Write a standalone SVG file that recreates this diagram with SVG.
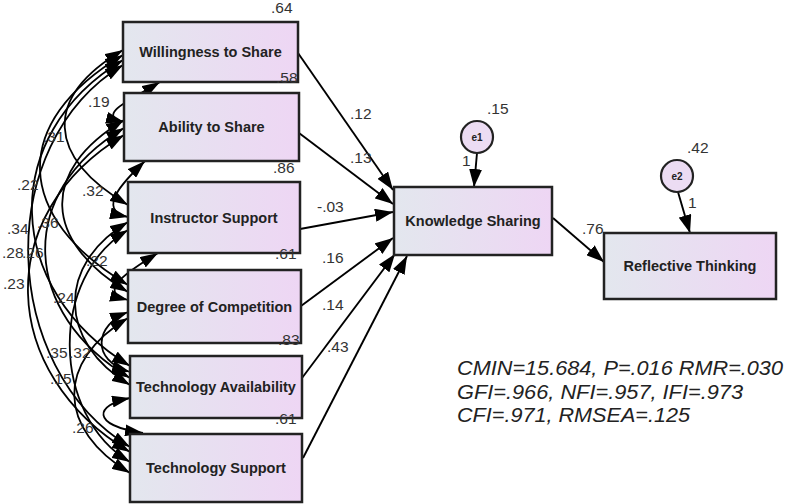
<svg xmlns="http://www.w3.org/2000/svg" width="786" height="504" viewBox="0 0 786 504">
<defs>
<linearGradient id="g" x1="0" y1="0" x2="1" y2="0">
<stop offset="0" stop-color="#e3e7ee"/>
<stop offset="1" stop-color="#eed6f4"/>
</linearGradient>
<marker id="ah" viewBox="0 0 18 12" refX="18" refY="6" markerWidth="18" markerHeight="12" orient="auto-start-reverse" markerUnits="userSpaceOnUse">
<path d="M0,0 L18,6 L0,12 z" fill="#000"/>
</marker>
<marker id="ap" viewBox="0 0 18 13" refX="18" refY="6.5" markerWidth="18" markerHeight="13" orient="auto" markerUnits="userSpaceOnUse">
<path d="M0,0 L18,6.5 L0,13 z" fill="#000"/>
</marker>
</defs>
<style>
.box{fill:url(#g);stroke:#222;stroke-width:2.5}
.circ{fill:#ecdcf3;stroke:#222;stroke-width:2.2}
.nt{font-family:"Liberation Sans",Arial,sans-serif;font-weight:bold;font-size:14.5px;fill:#222;text-anchor:middle}
.et{font-family:"Liberation Sans",Arial,sans-serif;font-weight:bold;font-size:10px;fill:#222;text-anchor:middle}
.lb{font-family:"Liberation Sans",Arial,sans-serif;font-size:15.5px;fill:#333}
.st{font-family:"Liberation Sans",Arial,sans-serif;font-style:italic;font-size:20px;fill:#222}
.cov{fill:none;stroke:#000;stroke-width:1.8;marker-start:url(#ah);marker-end:url(#ah)}
.pth{fill:none;stroke:#000;stroke-width:1.9;marker-end:url(#ap)}
</style>
<rect width="786" height="504" fill="#fff"/>

<g id="connectors">
<path class="cov" d="M160,82 C130,100 95,115 124,122"/>
<path class="cov" d="M123,50 C42,98 47,157 128,205"/>
<path class="cov" d="M123,55 C9,123 14,217 128,285"/>
<path class="cov" d="M123,60 C-3,136 4,290 130,366"/>
<path class="cov" d="M123,65 C-8,144 -1,368 130,447"/>
<path class="cov" d="M145,161 C125,180 95,210 128,217"/>
<path class="cov" d="M124,120 C39,171 43,241 128,292"/>
<path class="cov" d="M124,128 C15,193 21,313 130,378"/>
<path class="cov" d="M124,135 C-8,214 -2,373 130,452"/>
<path class="cov" d="M158,253 C130,270 95,292 128,300"/>
<path class="cov" d="M128,222 C56,265 58,342 130,385"/>
<path class="cov" d="M128,230 C49,277 51,415 130,462"/>
<path class="cov" d="M128,312 C95,325 90,360 130,372"/>
<path class="cov" d="M128,318 C55,362 57,429 130,473"/>
<path class="cov" d="M130,398 C95,405 90,425 143,433"/>

<path class="pth" d="M298,53 L393,190"/>
<path class="pth" d="M299,133 L393,204"/>
<path class="pth" d="M300,229 L393,212"/>
<path class="pth" d="M301,306 L393,238"/>
<path class="pth" d="M302,378 L395,254"/>
<path class="pth" d="M303,458 L407,256"/>
<path class="pth" d="M553,218 L604,262"/>
<path class="pth" d="M477,153 L474,187"/>
<path class="pth" d="M678,192 L690,233"/>

<g class="lb">
<text x="88" y="107">.19</text>
<text x="43" y="142">.31</text>
<text x="17" y="190">.22</text>
<text x="82" y="196">.32</text>
<text x="7" y="234">.34</text>
<text x="37" y="228">.36</text>
<text x="2" y="258">.28</text>
<text x="22" y="258">.26</text>
<text x="3" y="289">.23</text>
<text x="86" y="266">.22</text>
<text x="53" y="303">.24</text>
<text x="46" y="358">.35</text>
<text x="69" y="358">.32</text>
<text x="50" y="384">.15</text>
<text x="72" y="433">.26</text>

<text x="350" y="119">.12</text>
<text x="350" y="163">.13</text>
<text x="317" y="212">-.03</text>
<text x="322" y="263">.16</text>
<text x="322" y="310">.14</text>
<text x="327" y="352">.43</text>
<text x="582" y="234">.76</text>
<text x="462" y="166">1</text>
<text x="688" y="208">1</text>
</g>
</g>

<g id="n-willingness">
<rect class="box" x="123" y="22" width="175" height="60"/>
<text class="nt" x="210.5" y="57">Willingness to Share</text>
<text class="lb" x="271" y="13">.64</text>
</g>
<g id="n-ability">
<rect class="box" x="124" y="93" width="175" height="68"/>
<text class="nt" x="211.5" y="132">Ability to Share</text>
<text class="lb" x="276" y="83">.58</text>
</g>
<g id="n-instructor">
<rect class="box" x="128" y="182" width="172" height="71"/>
<text class="nt" x="214" y="222.5">Instructor Support</text>
<text class="lb" x="273" y="173">.86</text>
</g>
<g id="n-competition">
<rect class="box" x="128" y="270" width="173" height="73"/>
<text class="nt" x="214.5" y="311.5">Degree of Competition</text>
<text class="lb" x="275" y="259">.61</text>
</g>
<g id="n-availability">
<rect class="box" x="130" y="356" width="172" height="62"/>
<text class="nt" x="216" y="392">Technology Availability</text>
<text class="lb" x="278" y="345">.83</text>
</g>
<g id="n-support">
<rect class="box" x="130" y="434" width="172" height="68"/>
<text class="nt" x="216" y="473">Technology Support</text>
<text class="lb" x="275" y="424">.61</text>
</g>
<g id="n-knowledge">
<rect class="box" x="394" y="187" width="158" height="68"/>
<text class="nt" x="473" y="226">Knowledge Sharing</text>
</g>
<g id="n-reflective">
<rect class="box" x="604" y="233" width="172" height="66"/>
<text class="nt" x="690" y="271">Reflective Thinking</text>
</g>
<g id="n-e1">
<circle class="circ" cx="477" cy="137" r="16"/>
<text class="et" x="477" y="140.5">e1</text>
<text class="lb" x="487" y="114">.15</text>
</g>
<g id="n-e2">
<circle class="circ" cx="677" cy="176" r="16"/>
<text class="et" x="677" y="179.5">e2</text>
<text class="lb" x="687" y="153">.42</text>
</g>

<g id="fit-stats">
<text class="st" x="457" y="375" textLength="326" lengthAdjust="spacingAndGlyphs">CMIN=15.684, P=.016 RMR=.030</text>
<text class="st" x="457" y="399" textLength="286" lengthAdjust="spacingAndGlyphs">GFI=.966, NFI=.957, IFI=.973</text>
<text class="st" x="457" y="422" textLength="233" lengthAdjust="spacingAndGlyphs">CFI=.971, RMSEA=.125</text>
</g>
</svg>
